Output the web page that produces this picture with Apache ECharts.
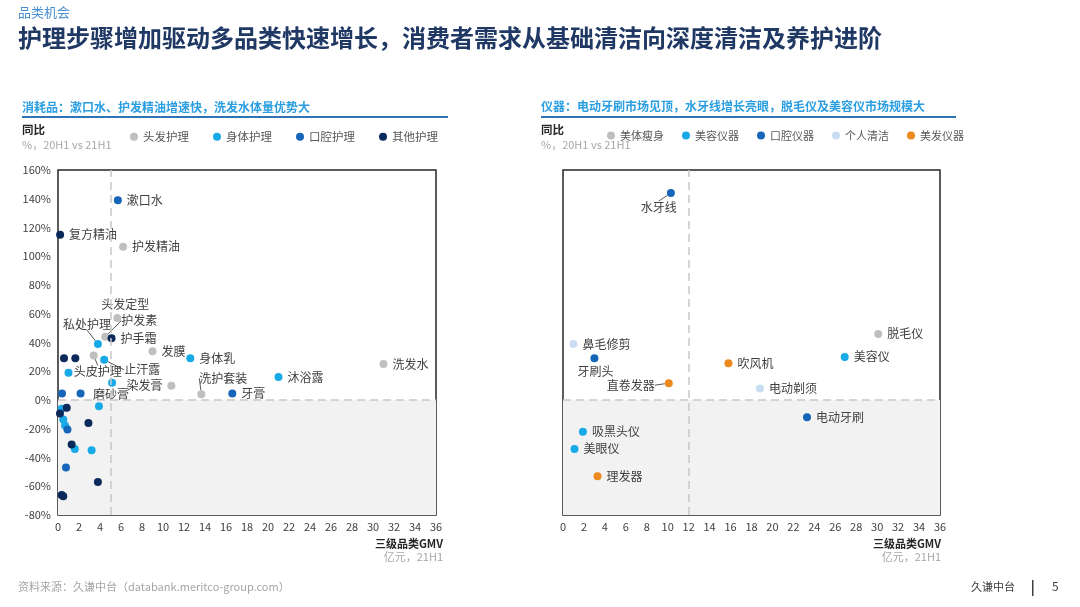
<!DOCTYPE html>
<html>
<head>
<meta charset="utf-8">
<script src="https://cdn.jsdelivr.net/npm/echarts@6/dist/echarts.min.js"></script>
<style>
html,body{margin:0;padding:0;background:#fff;}
#c{width:1080px;height:607px;}
</style>
</head>
<body>
<div id="c"></div>
<script>
// ---------- DATA ----------
const xTicks = [0,2,4,6,8,10,12,14,16,18,20,22,24,26,28,30,32,34,36];
const yTicks = [-80,-60,-40,-20,0,20,40,60,80,100,120,140,160];

// Left chart: consumables  [GMV (亿元), YoY %, label]
const hairCare = [
  [6.2,106.6,'护发精油'],[5.65,57,'头发定型'],[4.5,44,'护发素'],[9.0,34,'发膜'],
  [3.4,31,'头皮护理'],[31.0,25,'洗发水'],[10.8,10,'染发膏'],[13.65,4,'洗护套装']
];
const bodyCare = [
  [3.8,39,'私处护理'],[12.6,29,'身体乳'],[4.4,28,'止汗露'],[21.0,16,'沐浴露'],[5.15,12,'磨砂膏'],
  [1.0,19,''],[3.9,-4.3,''],[0.35,-6,''],[0.5,-13.5,''],[0.67,-17.7,''],[1.6,-34,''],[3.2,-35,'']
];
const oralCare = [
  [5.7,139,'漱口水'],[16.6,4.5,'牙膏'],[0.38,4.5,''],[2.15,4.5,''],[0.9,-20.5,''],[0.76,-47,'']
];
const otherCare = [
  [0.2,115,'复方精油'],[5.1,43,'护手霜'],[0.57,29,''],[1.65,29,''],[0.83,-5.4,''],[0.19,-9.4,''],
  [2.9,-16,''],[1.3,-31,''],[3.8,-57,''],[0.35,-66,''],[0.5,-67,'']
];

// Right chart: devices
const bodySlim = [[30.1,46,'脱毛仪']];
const beautyDev = [[26.9,30,'美容仪'],[1.9,-22,'吸黑头仪'],[1.1,-34,'美眼仪']];
const oralDev = [[10.3,144,'水牙线'],[3.0,29,'牙刷头'],[23.3,-12,'电动牙刷']];
const cleanDev = [[1.0,39,'鼻毛修剪'],[18.8,8,'电动剃须']];
const hairDev = [[15.8,25.6,'吹风机'],[10.1,11.7,'直卷发器'],[3.3,-53,'理发器']];

const leftNames = ['头发护理','身体护理','口腔护理','其他护理'];
const rightNames = ['美体瘦身','美容仪器','口腔仪器','个人清洁','美发仪器'];
const leftRefX = 5, rightRefX = 12, refY = 0;

// ---------- STYLE ----------
const FONT = '"Noto Sans CJK SC", "Noto Sans", sans-serif';
const C_GRAY = '#bfbfbf', C_CYAN = '#18aae6', C_MID = '#1565b8', C_NAVY = '#0b2a5b', C_PALE = '#c9def2', C_ORANGE = '#ec8a1f';

// label placement offsets (label centre relative to dot centre) for moved labels
const moved = {
  '头发定型': {dx:8, dy:-14, line:false},
  '护发素': {dx:34, dy:-16, line:true},
  '私处护理': {dx:-11, dy:-20, line:true},
  '止汗露': {dx:38, dy:10, line:true},
  '头皮护理': {dx:4, dy:16, line:true},
  '磨砂膏': {dx:-1, dy:12, line:false},
  '洗护套装': {dx:22, dy:-16, line:true},
  '水牙线': {dx:-12, dy:14, line:true},
  '牙刷头': {dx:1, dy:13, line:false},
  '直卷发器': {dx:-38, dy:2, line:true}
};
const leftSide = {'染发膏':true};

function layoutFn(params){
  const m = moved[params.text];
  if (!m) return {};
  const cx = params.rect.x + params.rect.width/2;
  const cy = params.rect.y + params.rect.height/2;
  return {x: cx + m.dx, y: cy + m.dy, align:'center', verticalAlign:'middle'};
}

function makeSeries(name, arr, color, xi, extra){
  const s = {
    name: name, type:'scatter', xAxisIndex:xi, yAxisIndex:xi,
    symbolSize: 8, itemStyle:{color: color, opacity:1},
    data: arr.map(d => {
      const it = {name: d[2], value:[d[0], d[1]]};
      if (d[2]) {
        it.label = {show:true, position: leftSide[d[2]] ? 'left' : 'right'};
        if (moved[d[2]] && moved[d[2]].line) it.labelLine = {show:true};
      } else {
        it.label = {show:false};
      }
      return it;
    }),
    label: {show:true, formatter:'{b}', fontSize:12, color:'#404040', fontFamily: FONT, distance:5},
    labelLine: {show:false, lineStyle:{color:'#595959', width:1}},
    labelLayout: layoutFn,
    emphasis: {disabled:true}
  };
  return Object.assign(s, extra || {});
}

function refMarks(refX){
  return {
    markArea: {silent:true, itemStyle:{color:'#f2f2f2'}, data:[[{coord:[0,-80]},{coord:[36,0]}]]},
    markLine: {silent:true, symbol:'none', label:{show:false},
      lineStyle:{type:[8,5], color:'#c8c8c8', width:1.5},
      data:[{xAxis: refX},{yAxis: refY}]}
  };
}

const gridCommon = {top:170, height:345, show:true, borderColor:'#262626', borderWidth:1.5, backgroundColor:'transparent'};

function xAxis(gi){
  return {type:'value', gridIndex:gi, min:0, max:36, interval:2,
    axisLine:{show:false}, axisTick:{show:false}, splitLine:{show:false},
    axisLabel:{fontSize:11, color:'#404040', fontFamily:FONT, margin:6}};
}
function yAxis(gi, showLabels){
  return {type:'value', gridIndex:gi, min:-80, max:160, interval:20,
    axisLine:{show:false}, axisTick:{show:false}, splitLine:{show:false},
    axisLabel:{show:showLabels, fontSize:11, color:'#404040', fontFamily:FONT, formatter:'{value}%', margin:7}};
}

const textG = (x,y,txt,size,color,opt) => Object.assign({type:'text', left:x, top:y,
  style:{text:txt, fontSize:size, fill:color, fontFamily:FONT, fontWeight:(opt&&opt.bold)?'bold':'normal'}}, opt&&opt.extra||{});

const option = {
  animation:false,
  backgroundColor:'#ffffff',
  grid:[Object.assign({left:58, width:378}, gridCommon), Object.assign({left:563, width:377}, gridCommon)],
  xAxis:[xAxis(0), xAxis(1)],
  yAxis:[yAxis(0,true), yAxis(1,false)],
  legend:[
    {data:leftNames, left:125, top:126, icon:'circle', itemWidth:8, itemHeight:8, itemGap:24,
      textStyle:{fontSize:11.5, color:'#595959', fontFamily:FONT}, selectedMode:false},
    {data:rightNames, left:602, top:125, icon:'circle', itemWidth:8, itemHeight:8, itemGap:18,
      textStyle:{fontSize:11, color:'#595959', fontFamily:FONT}, selectedMode:false}
  ],
  series:[
    makeSeries('头发护理', hairCare, C_GRAY, 0, refMarks(leftRefX)),
    makeSeries('身体护理', bodyCare, C_CYAN, 0),
    makeSeries('口腔护理', oralCare, C_MID, 0),
    makeSeries('其他护理', otherCare, C_NAVY, 0),
    makeSeries('美体瘦身', bodySlim, C_GRAY, 1, refMarks(rightRefX)),
    makeSeries('美容仪器', beautyDev, C_CYAN, 1),
    makeSeries('口腔仪器', oralDev, C_MID, 1),
    makeSeries('个人清洁', cleanDev, C_PALE, 1),
    makeSeries('美发仪器', hairDev, C_ORANGE, 1)
  ],
  graphic:[
    textG(18, 6, '品类机会', 13, '#4a90d0'),
    textG(18, 26, '护理步骤增加驱动多品类快速增长，消费者需求从基础清洁向深度清洁及养护进阶', 24, '#1f3864', {bold:true}),
    textG(22, 101, '消耗品：漱口水、护发精油增速快，洗发水体量优势大', 12, '#2a9ee0', {bold:true}),
    {type:'rect', left:22, top:116, shape:{width:426, height:2}, style:{fill:'#2f75b5'}},
    textG(541, 100, '仪器：电动牙刷市场见顶，水牙线增长亮眼，脱毛仪及美容仪市场规模大', 12, '#2a9ee0', {bold:true}),
    {type:'rect', left:541, top:116, shape:{width:415, height:2}, style:{fill:'#2f75b5'}},
    textG(22, 124, '同比', 11.5, '#262626', {bold:true}),
    textG(22, 139, '%，20H1 vs 21H1', 11, '#a6a6a6'),
    textG(541, 124, '同比', 11.5, '#262626', {bold:true}),
    textG(541, 139, '%，20H1 vs 21H1', 11, '#a6a6a6'),
    {type:'text', right:1080-443, top:538, style:{text:'三级品类GMV', fontSize:11, fill:'#262626', fontFamily:FONT, fontWeight:'bold', align:'right'}},
    {type:'text', right:1080-443, top:551, style:{text:'亿元，21H1', fontSize:11, fill:'#a6a6a6', fontFamily:FONT, align:'right'}},
    {type:'text', right:1080-941, top:538, style:{text:'三级品类GMV', fontSize:11, fill:'#262626', fontFamily:FONT, fontWeight:'bold', align:'right'}},
    {type:'text', right:1080-941, top:551, style:{text:'亿元，21H1', fontSize:11, fill:'#a6a6a6', fontFamily:FONT, align:'right'}},
    textG(18, 581, '资料来源：久谦中台（databank.meritco-group.com）', 11, '#a6a6a6'),
    textG(971, 581, '久谦中台', 11, '#404040'),
    {type:'rect', left:1032, top:580, shape:{width:1.5, height:16}, style:{fill:'#404040'}},
    textG(1052, 580, '5', 12, '#404040')
  ]
};

const chart = echarts.init(document.getElementById('c'), null, {renderer:'canvas'});
chart.setOption(option);
</script>
</body>
</html>
